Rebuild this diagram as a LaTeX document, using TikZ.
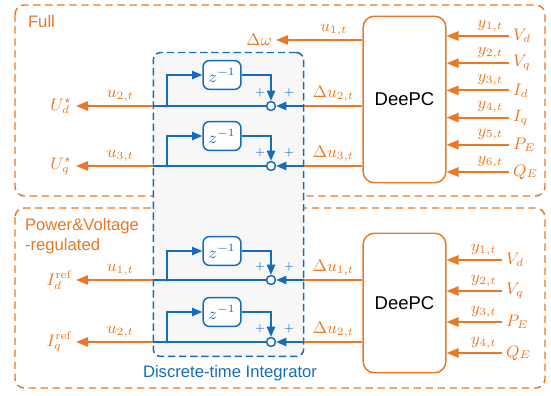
\documentclass[tikz,border=0pt]{standalone}
\usepackage{fontspec}
\newfontfamily\arialfont{Liberation Sans}
\usetikzlibrary{arrows.meta,positioning}

\definecolor{dpcorange}{RGB}{234,120,36}
\definecolor{dpcblue}{RGB}{22,108,186}

\tikzset{
  groupbox/.style={draw=dpcorange,line width=0.8pt,dash pattern=on 4pt off 2.5pt,rounded corners=5pt},
  intbox/.style={draw=dpcblue,fill=black!3,line width=0.8pt,dash pattern=on 4pt off 2pt,rounded corners=4pt,
    minimum width=81.3pt,minimum height=164.3pt,inner sep=0pt},
  deepcbox/.style={draw=dpcorange,fill=white,line width=0.8pt,rounded corners=6pt,minimum width=44.7pt,
    font=\arialfont\fontsize{10}{12}\selectfont},
  delaybox/.style={draw=dpcblue,fill=white,line width=0.8pt,rounded corners=3.5pt,minimum width=20.5pt,
    minimum height=15.6pt,inner sep=0pt,text=dpcblue},
  sumnode/.style={circle,draw=dpcblue,fill=white,line width=0.8pt,minimum size=4.8pt,inner sep=0pt},
  jdot/.style={circle,fill=dpcblue,minimum size=1.8pt,inner sep=0pt},
  oline/.style={dpcorange,line width=1.1pt},
  oarrow/.style={oline,-{Triangle[length=6.5pt,width=5pt]}},
  bline/.style={dpcblue,line width=0.8pt},
  barrow/.style={bline,-{Triangle[length=5.5pt,width=4.5pt]}},
  olabel/.style={text=dpcorange,inner sep=2pt},
  plussign/.style={text=dpcblue,font=\fontsize{6}{7}\selectfont,inner sep=0pt},
}

\begin{document}
\begin{tikzpicture}[x=0.019cm,y=-0.019cm,font=\fontsize{9}{11}\selectfont]
  \useasboundingbox (0,0) rectangle (551,396);

  % outer groups
  \draw[groupbox] (15,5) rectangle (545,196);
  \draw[groupbox] (15,208) rectangle (545,388);
  \node[olabel,anchor=west,font=\arialfont\fontsize{9}{11}\selectfont] (full) at (24,22) {Full};
  \node[olabel,anchor=north west,align=left,font=\arialfont\fontsize{9}{11}\selectfont] (pvr) at (21,214)
    {Power\&Voltage\\-regulated};

  % integrator region
  \node[intbox] (integ) at (228.5,204.5) {};
  \node[text=dpcblue,font=\arialfont\fontsize{9}{11}\selectfont] (integlbl) at (230,373)
    {Discrete-time Integrator};

  % DeePC blocks
  \node[deepcbox,minimum height=90pt] (dpcA) at (404.5,99.5) {DeePC};
  \node[deepcbox,minimum height=75.4pt] (dpcB) at (404.5,303) {DeePC};

  % top: frequency output
  \node[olabel,anchor=east] (dw) at (276,40) {$\Delta\omega$};
  \draw[oarrow] (dpcA.west |- dw.east) -- node[olabel,pos=0.33,above] {$u_{1,t}$} (dw.east);

  % integrator rows
  \foreach \r/\ym/\yf/\blk/\uo/\outsig/\du in {
      1/106/75/dpcA/{u_{2,t}}/{U_d^\star}/{\Delta u_{2,t}},
      2/166/136/dpcA/{u_{3,t}}/{U_q^\star}/{\Delta u_{3,t}},
      3/280/251/dpcB/{u_{1,t}}/{I_d^{\mathrm{ref}}}/{\Delta u_{1,t}},
      4/342/312/dpcB/{u_{2,t}}/{I_q^{\mathrm{ref}}}/{\Delta u_{2,t}}} {
    \node[sumnode] (sum\r) at (271,\ym) {};
    \node[delaybox] (dly\r) at (222,\yf) {$z^{-1}$};
    \node[jdot] (jn\r) at (167,\ym) {};
    \node[olabel,anchor=east] (out\r) at (76,\ym) {$\outsig$};
    \coordinate (inr\r) at (integ.east |- sum\r);
    \coordinate (inl\r) at (integ.west |- sum\r);
    \node[plussign] (pl\r) at ([shift={(-11,-13)}]sum\r) {$+$};
    \node[plussign] (pr\r) at ([shift={(18,-13)}]sum\r) {$+$};
    \draw[oline] (\blk.west |- sum\r) -- node[olabel,above] {$\du$} (inr\r);
    \draw[barrow] (inr\r) -- (sum\r.east);
    \draw[bline] (sum\r.west) -- (inl\r);
    \draw[barrow] (jn\r.center) |- (dly\r.west);
    \draw[barrow] (dly\r.east) -| (sum\r.north);
    \draw[oarrow] (inl\r) -- node[olabel,pos=0.42,above] {$\uo$} (out\r.east);
  }

  % DeePC inputs, full
  \foreach \i/\yy/\sig in {1/36/V_d,2/63.2/V_q,3/90.4/I_d,4/117.6/I_q,5/144.8/P_E,6/172/Q_E} {
    \node[olabel,anchor=west] (inA\i) at (509,\yy) {$\sig$};
    \draw[oarrow] (inA\i.west) -- node[olabel,pos=0.3,above] {$y_{\i,t}$} (inA\i.west -| dpcA.east);
  }

  % DeePC inputs, power & voltage regulated
  \foreach \i/\yy/\sig in {1/260/V_d,2/291/V_q,3/322/P_E,4/353/Q_E} {
    \node[olabel,anchor=west] (inB\i) at (502,\yy) {$\sig$};
    \draw[oarrow] (inB\i.west) -- node[olabel,pos=0.33,above] {$y_{\i,t}$} (inB\i.west -| dpcB.east);
  }
\end{tikzpicture}
\end{document}
